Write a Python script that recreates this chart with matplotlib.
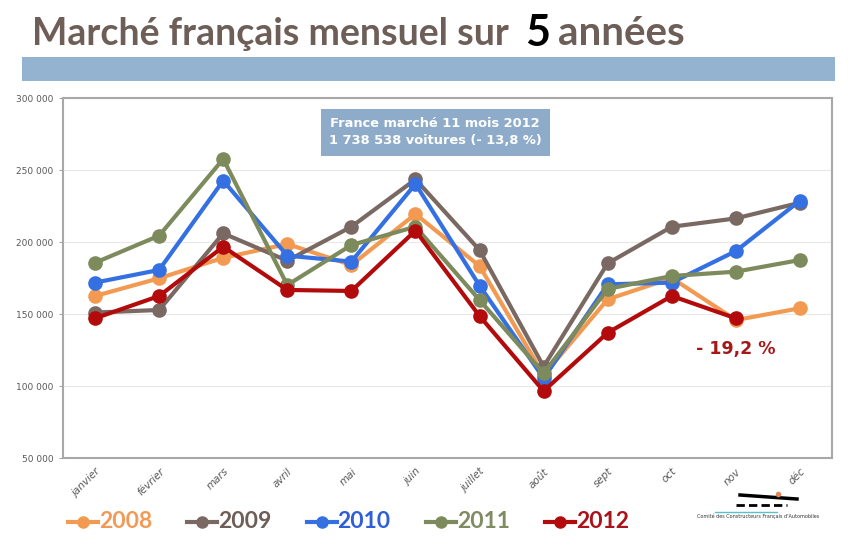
import matplotlib
matplotlib.use("Agg")
import matplotlib.pyplot as plt
from matplotlib.lines import Line2D
from matplotlib.patches import Rectangle
from matplotlib.ticker import FuncFormatter

mois = ["janvier", "février", "mars", "avril", "mai", "juin",
        "juillet", "août", "sept", "oct", "nov", "déc"]
annees = ["2008", "2009", "2010", "2011", "2012"]

v2008 = [162500, 174800, 189000, 198600, 184000, 219400, 183300, 107600, 160200, 175000, 145800, 154000]
v2009 = [151000, 152800, 206000, 187000, 210600, 243500, 194400, 113500, 185200, 210600, 216400, 227300]
v2010 = [171800, 180600, 242600, 190500, 186400, 240300, 169700, 105400, 170600, 171800, 193700, 228700]
v2011 = [185600, 204400, 257600, 170100, 197900, 210600, 159700, 108800, 167400, 176400, 179400, 187500]
v2012 = [147000, 162500, 196700, 166700, 166000, 207900, 148600, 96500, 137000, 162500, 147000]

couleurs = ["#f39a52", "#7a6862", "#3470e2", "#7d8a5c", "#b30b0b"]
couleurs_txt = ["#f29a55", "#6e5e58", "#2f5fd6", "#7f8b60", "#a8141a"]
series = [v2008, v2009, v2010, v2011, v2012]

W, H = 852, 548
fig = plt.figure(figsize=(W / 100, H / 100), dpi=100)

# title
titre_col = "#6e5e58"
fig.text(32 / W, 1 - 45 / H, "Marché français mensuel sur", fontsize=27, fontweight="bold",
         color=titre_col, family="Lato", va="baseline")
fig.text(525 / W, 1 - 46 / H, "5", fontsize=31, fontweight="bold", color="black",
         family="Lato", va="baseline")
fig.text(558 / W, 1 - 45 / H, "années", fontsize=29, fontweight="bold",
         color=titre_col, family="Lato", va="baseline")

# blue band
fig.patches.append(Rectangle((22 / W, 1 - 81 / H), 813 / W, 24 / H, transform=fig.transFigure,
                             facecolor="#93b3d0", edgecolor="none"))

ax = fig.add_axes([63 / W, 1 - 458 / H, 769 / W, 360 / H])
for vals, c, a in zip(series, couleurs, annees):
    ax.plot(range(len(vals)), vals, color=c, lw=3, marker="o", ms=9.5, label=a)

ax.set_xlim(-0.5, 11.5)
ax.set_ylim(50000, 300000)
ax.set_yticks(range(50000, 300001, 50000))
ax.yaxis.set_major_formatter(FuncFormatter(lambda v, p: f"{int(v):,}".replace(",", " ")))
ax.set_xticks(range(12))
ax.set_xticklabels(mois, rotation=45, ha="right", rotation_mode="anchor",
                   fontstyle="italic", fontsize=7.5, color="#595959")
ax.tick_params(axis="x", length=0, pad=6)
ax.tick_params(axis="y", labelsize=6.5, labelcolor="#595959", length=3, color="#a6a6a6", pad=4)
ax.grid(axis="y", color="#e8e8e8", lw=0.8)
ax.set_axisbelow(True)
for s in ax.spines.values():
    s.set_color("#a8a8a8")
    s.set_linewidth(1.5)

ax.text(0.484, 0.905, "France marché 11 mois 2012\n1 738 538 voitures (- 13,8 %)",
        transform=ax.transAxes, ha="center", va="center", color="white", fontsize=9.4,
        fontweight="bold", linespacing=1.45,
        bbox=dict(boxstyle="square,pad=0.62", facecolor="#8eacca", edgecolor="none"))
ax.text(10, 126000, "- 19,2 %", ha="center", va="center", color="#a51818",
        fontsize=12.5, fontweight="bold")

# legend, laid out like the original
for i, (a, c, ct) in enumerate(zip(annees, couleurs, couleurs_txt)):
    x0 = 68 + 119.3 * i
    y0 = 1 - 522 / H
    fig.add_artist(Line2D([x0 / W, (x0 + 30) / W], [y0, y0], color=c, lw=3))
    fig.add_artist(Line2D([(x0 + 15) / W], [y0], color=c, marker="o", ms=8, lw=0))
    fig.text((x0 + 31) / W, y0, a, color=ct, fontsize=16.5, fontweight="bold",
             family="Lato", va="center", ha="left")

# logo
fig.add_artist(Line2D([740 / W, 797 / W], [1 - 495 / H, 1 - 499 / H], color="black", lw=2.5))
fig.add_artist(Line2D([736 / W, 787 / W], [1 - 505 / H, 1 - 505 / H], color="black", lw=2,
                      dashes=(3, 1.5)))
fig.add_artist(Line2D([778 / W], [1 - 494 / H], color="#e8845a", marker="o", ms=3, lw=0))
fig.add_artist(Line2D([715 / W, 777 / W], [1 - 512 / H, 1 - 512 / H], color="#5bc0c8", lw=1))
fig.text(758 / W, 1 - 516 / H, "Comité des Constructeurs Français d'Automobiles",
         fontsize=3.5, ha="center", va="center", color="#333333")

fig.savefig("out.png", dpi=100)
